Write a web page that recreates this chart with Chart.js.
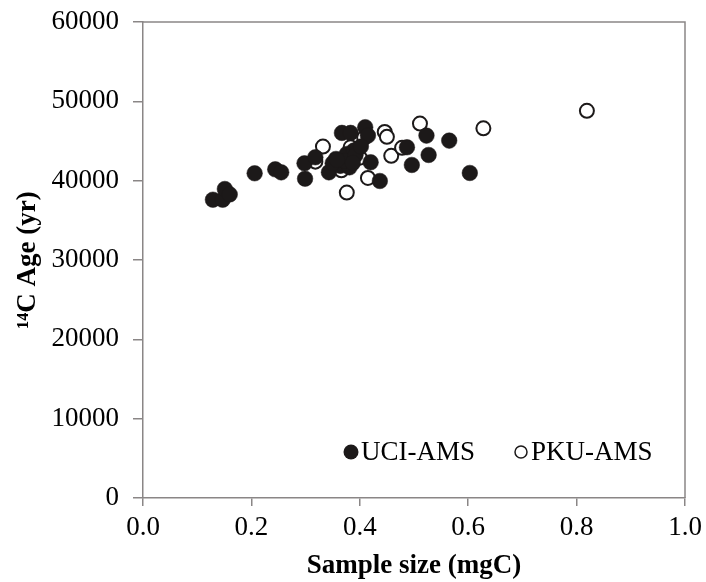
<!DOCTYPE html>
<html>
<head>
<meta charset="utf-8">
<script src="https://cdn.jsdelivr.net/npm/chart.js@4"></script>
<style>
  html, body { margin: 0; padding: 0; background: #ffffff; }
  #wrap { width: 706px; height: 582px; }
</style>
</head>
<body>
<div id="wrap"><canvas id="c" width="706" height="582"></canvas></div>
<script>
// ---- data ----
const seriesNames = ['UCI-AMS', 'PKU-AMS'];
const uciSize = [0.129, 0.147, 0.151, 0.160, 0.206, 0.244, 0.255, 0.298, 0.299, 0.318,
                 0.343, 0.356, 0.367, 0.383, 0.364, 0.381, 0.376, 0.389, 0.396, 0.410,
                 0.415, 0.420, 0.437, 0.487, 0.496, 0.523, 0.527, 0.565, 0.603,
                 0.350, 0.372, 0.392, 0.402, 0.387, 0.358];
const uciAge  = [37600, 37600, 38950, 38270, 40930, 41430, 41050, 42190, 40250, 42950,
                 41050, 42740, 46020, 46020, 41870, 41680, 43370, 43790, 44000, 46740,
                 45680, 42320, 39960, 44210, 41980, 45680, 43240, 45050, 40970,
                 42200, 42500, 43200, 44300, 42240, 42620];
const pkuSize = [0.332, 0.318, 0.376, 0.446, 0.450, 0.458, 0.415, 0.478, 0.511, 0.628,
                 0.819, 0.366, 0.383, 0.408, 0.400];
const pkuAge  = [44300, 42400, 38500, 46150, 45520, 43130, 40350, 44140, 47200, 46600,
                 48800, 41300, 44200, 45400, 42900];
const xTicks = [0.0, 0.2, 0.4, 0.6, 0.8, 1.0];
const yTicks = [0, 10000, 20000, 30000, 40000, 50000, 60000];
const xTitle = 'Sample size (mgC)';
const yTitle = '\u00B9\u2074C Age (yr)';

const toPts = (xs, ys) => xs.map((x, i) => ({ x: x, y: ys[i] }));

const AXIS = '#8a8686';
const INK = '#1c1919';
const SERIF = "'Liberation Serif', 'Times New Roman', serif";

const frame = {
  id: 'frame',
  afterDraw(chart) {
    const a = chart.chartArea, ctx = chart.ctx;
    ctx.save();
    ctx.strokeStyle = AXIS;
    ctx.lineWidth = 1.5;
    ctx.beginPath();
    ctx.moveTo(a.left, a.top);
    ctx.lineTo(a.right, a.top);
    ctx.lineTo(a.right, a.bottom);
    ctx.stroke();
    ctx.restore();
  }
};

const innerLegend = {
  id: 'innerLegend',
  afterDraw(chart) {
    const a = chart.chartArea, ctx = chart.ctx;
    const y = a.bottom - 46;
    ctx.save();
    ctx.font = "27px " + SERIF;
    ctx.fillStyle = '#000';
    ctx.textBaseline = 'middle';
    // UCI
    let cx = a.left + 208;
    ctx.beginPath(); ctx.arc(cx, y, 7.5, 0, Math.PI * 2); ctx.fillStyle = INK; ctx.fill();
    ctx.fillStyle = '#000';
    ctx.fillText(seriesNames[0], cx + 10, y + 1);
    // PKU
    cx = a.left + 378;
    ctx.beginPath(); ctx.arc(cx, y, 6, 0, Math.PI * 2);
    ctx.fillStyle = '#fff'; ctx.fill();
    ctx.strokeStyle = INK; ctx.lineWidth = 1.5; ctx.stroke();
    ctx.fillStyle = '#000';
    ctx.fillText(seriesNames[1], cx + 10, y + 1);
    ctx.restore();
  }
};

new Chart(document.getElementById('c'), {
  type: 'scatter',
  data: {
    datasets: [
      {
        label: seriesNames[0],
        data: toPts(uciSize, uciAge),
        pointRadius: 7.8,
        pointBackgroundColor: INK,
        pointBorderColor: INK,
        pointBorderWidth: 0.5
      },
      {
        label: seriesNames[1],
        data: toPts(pkuSize, pkuAge),
        pointRadius: 7,
        pointBackgroundColor: '#ffffff',
        pointBorderColor: INK,
        pointBorderWidth: 2
      }
    ]
  },
  options: {
    responsive: false,
    animation: false,
    layout: { padding: { top: 22, right: 21, left: 0, bottom: 0 } },
    plugins: {
      legend: { display: false },
      tooltip: { enabled: false }
    },
    scales: {
      x: {
        type: 'linear',
        min: 0, max: 1,
        afterBuildTicks: (s) => { s.ticks = xTicks.map(v => ({ value: v })); },
        afterFit: (s) => { s.height = 84; s.paddingLeft = 0; s.paddingRight = 0; },
        ticks: {
          callback: (v) => Number(v).toFixed(1),
          font: { family: SERIF, size: 27 },
          color: '#000',
          padding: 6
        },
        grid: { display: true, drawOnChartArea: false, drawTicks: true, tickLength: 8, color: AXIS, lineWidth: 1.5 },
        border: { display: true, color: AXIS, width: 1.5 },
        title: {
          display: true, text: xTitle, color: '#000',
          font: { family: SERIF, size: 27, weight: 'bold' },
          padding: { top: 0, bottom: 0 }
        }
      },
      y: {
        type: 'linear',
        min: 0, max: 60000,
        afterBuildTicks: (s) => { s.ticks = yTicks.map(v => ({ value: v })); },
        afterFit: (s) => { s.width = 143; s.paddingTop = 0; s.paddingBottom = 0; },
        ticks: {
          callback: (v) => String(v),
          font: { family: SERIF, size: 27 },
          color: '#000',
          padding: 14
        },
        grid: { display: true, drawOnChartArea: false, drawTicks: true, tickLength: 10, color: AXIS, lineWidth: 1.5 },
        border: { display: true, color: AXIS, width: 1.5 },
        title: {
          display: true, text: yTitle, color: '#000',
          font: { family: SERIF, size: 27, weight: 'bold' },
          padding: { top: 12, bottom: 0 }
        }
      }
    }
  },
  plugins: [frame, innerLegend]
});
</script>
</body>
</html>
